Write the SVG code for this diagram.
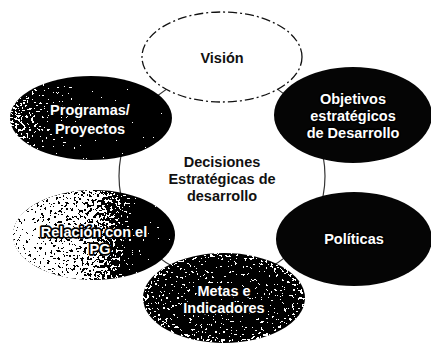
<svg xmlns="http://www.w3.org/2000/svg" width="431" height="343" viewBox="0 0 431 343">
<style>
text{font-family:"Liberation Sans","Noto Sans",sans-serif;font-weight:bold;font-size:14.5px;text-anchor:middle;dominant-baseline:central}
.dk{fill:#fff;stroke:#000;stroke-width:3.4;paint-order:stroke;stroke-linejoin:round}
.bk{fill:#111}
.node-dark{fill:#050505}
</style>
<defs>
<filter id="speck" x="0" y="0" width="100%" height="100%" color-interpolation-filters="sRGB">
<feTurbulence type="fractalNoise" baseFrequency="0.38" numOctaves="2" seed="4" result="n"/>
<feColorMatrix in="n" type="matrix" values="0.33 0.33 0.33 0 0 0.33 0.33 0.33 0 0 0.33 0.33 0.33 0 0 0 0 0 0 1" result="g"/>
<feComposite in="SourceGraphic" in2="g" operator="arithmetic" k1="0" k2="1" k3="2.4" k4="-1.2" result="m"/>
<feComponentTransfer in="m" result="t">
<feFuncR type="discrete" tableValues="0 1"/>
<feFuncG type="discrete" tableValues="0 1"/>
<feFuncB type="discrete" tableValues="0 1"/>
<feFuncA type="linear" slope="0" intercept="1"/>
</feComponentTransfer>
<feComposite in="t" in2="SourceAlpha" operator="in"/>
</filter>
<linearGradient id="gProg" x1="0" y1="0" x2="1" y2="0">
<stop offset="0" stop-color="#7a7a7a"/><stop offset="0.3" stop-color="#2a2a2a"/><stop offset="0.6" stop-color="#0a0a0a"/><stop offset="1" stop-color="#000"/>
</linearGradient>
<linearGradient id="gRel" x1="0" y1="0" x2="1" y2="0">
<stop offset="0" stop-color="#c8c8c8"/><stop offset="0.5" stop-color="#9a9a9a"/><stop offset="0.8" stop-color="#1a1a1a"/><stop offset="1" stop-color="#000"/>
</linearGradient>
<radialGradient id="gMet" cx="0.5" cy="0.5" r="0.6">
<stop offset="0" stop-color="#2e2e2e"/><stop offset="0.7" stop-color="#444"/><stop offset="1" stop-color="#9a9a9a"/>
</radialGradient>
</defs>
<rect width="431" height="343" fill="#fff"/>
<g id="connectors"/>
<g id="center">
<circle cx="222" cy="176" r="103" fill="#fff" stroke="#333" stroke-width="1.2"/>
<text class="bk" x="222" y="162">Decisiones</text>
<text class="bk" x="222" y="179">Estratégicas de</text>
<text class="bk" x="222" y="196">desarrollo</text>
</g>
<g id="vision">
<ellipse cx="222" cy="57" rx="80" ry="45" fill="#fff" stroke="#111" stroke-width="1.3" stroke-dasharray="9 3 2 3"/>
<text class="bk" x="222" y="58">Visión</text>
</g>
<g id="objetivos">
<ellipse cx="353" cy="115" rx="79" ry="48" class="node-dark"/>
<text class="dk" x="353" y="99">Objetivos</text>
<text class="dk" x="353" y="116">estratégicos</text>
<text class="dk" x="353" y="133">de Desarrollo</text>
</g>
<g id="politicas">
<ellipse cx="354" cy="239" rx="78" ry="47" class="node-dark"/>
<text class="dk" x="354" y="239">Políticas</text>
</g>
<g id="metas">
<ellipse cx="224" cy="298" rx="81" ry="45" fill="url(#gMet)" filter="url(#speck)"/>
<text class="dk" x="224" y="291">Metas e</text>
<text class="dk" x="224" y="308">Indicadores</text>
</g>
<g id="relacion">
<ellipse cx="94" cy="235" rx="81" ry="45" fill="url(#gRel)" filter="url(#speck)"/>
<text class="dk" x="94" y="232">Relación con el</text>
<text class="dk" x="100" y="249">PG</text>
</g>
<g id="programas">
<ellipse cx="91" cy="118" rx="81" ry="42" fill="url(#gProg)" filter="url(#speck)"/>
<text class="dk" x="90" y="110">Programas/</text>
<text class="dk" x="90" y="129">Proyectos</text>
</g>
</svg>
